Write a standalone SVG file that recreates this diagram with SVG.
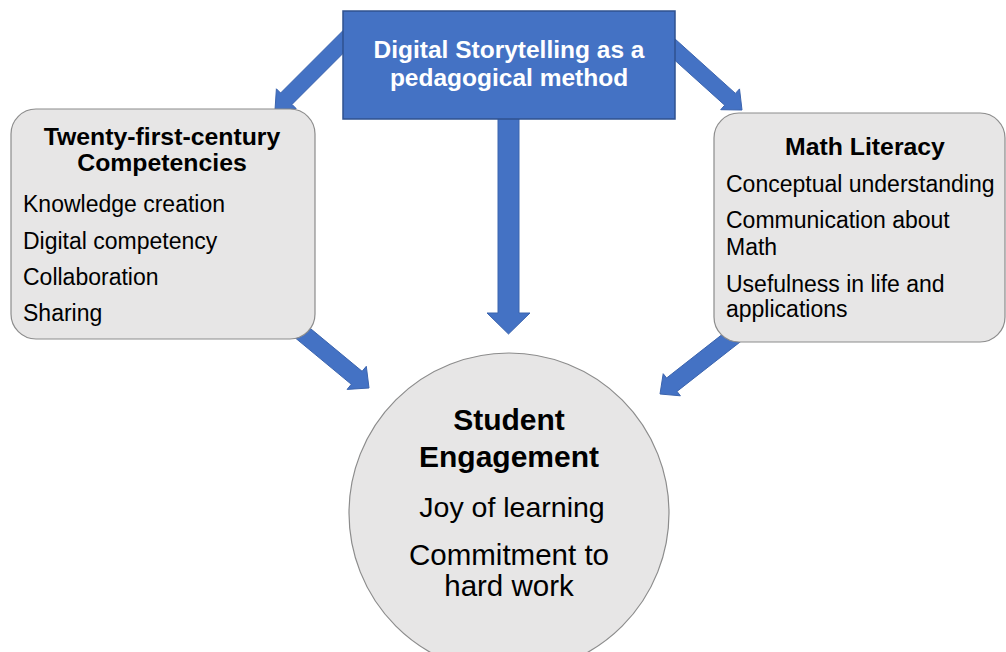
<svg xmlns="http://www.w3.org/2000/svg" width="1006" height="652" viewBox="0 0 1006 652">
<style>
.arrow{fill:#4472C4;stroke:#3B64AE;stroke-width:1}
.gbox{fill:#E7E6E6;stroke:#8C8C8C;stroke-width:1.2}
.t{font-family:"Liberation Sans",Arial,sans-serif;fill:#000}
.b{font-weight:bold}
.w{fill:#fff}
.c{text-anchor:middle}
.s{font-size:23px}
</style>
<rect width="1006" height="652" fill="#fff"/>
<g id="connectors">
<polygon class="arrow" points="349.3,24.3 280.6,93 276.4,88.8 275,110 296.2,108.6 292,104.4 360.7,35.7"/>
<polygon class="arrow" points="670.4,34.8 735.4,93.4 739.5,88.9 742,110 720.7,109.7 724.7,105.2 659.7,46.6"/>
<polygon class="arrow" points="498,110 519,110 519,313 530,313 508.5,334 487,313 498,313"/>
<polygon class="arrow" points="300.5,320.3 362.1,371.3 366.3,366.3 369,388 347.1,389.4 351.3,384.3 289.7,333.3"/>
<polygon class="arrow" points="733.5,325.6 666.6,378 663.2,373.7 660,394 680.4,395.8 677,391.4 743.9,339"/>
</g>
<g id="node-top">
<rect x="343" y="11" width="332" height="108" fill="#4472C4" stroke="#2F528F" stroke-width="1.5"/>
<text class="t b w c" x="509" y="57.5" font-size="24.5">Digital Storytelling as a</text>
<text class="t b w c" x="509" y="86" font-size="24.5">pedagogical method</text>
</g>
<g id="node-left">
<rect class="gbox" x="11" y="109" width="304" height="230" rx="25" ry="25"/>
<text class="t b c" x="162" y="145" font-size="24.8">Twenty-first-century</text>
<text class="t b c" x="162" y="171" font-size="24.8">Competencies</text>
<text class="t s" x="23" y="212">Knowledge creation</text>
<text class="t s" x="23" y="249">Digital competency</text>
<text class="t s" x="23" y="285">Collaboration</text>
<text class="t s" x="23" y="321">Sharing</text>
</g>
<g id="node-right">
<rect class="gbox" x="714" y="113" width="291" height="229" rx="25" ry="25"/>
<text class="t b c" x="865" y="155" font-size="24.8">Math Literacy</text>
<text class="t s" x="726" y="191.5">Conceptual understanding</text>
<text class="t s" x="726" y="228">Communication about</text>
<text class="t s" x="726" y="255">Math</text>
<text class="t s" x="726" y="291.5">Usefulness in life and</text>
<text class="t s" x="726" y="317">applications</text>
</g>
<g id="node-circle">
<circle cx="509" cy="513" r="160" fill="#E7E6E6" stroke="#8C8C8C" stroke-width="1.2"/>
<text class="t b c" x="509" y="430" font-size="30">Student</text>
<text class="t b c" x="509" y="467" font-size="30">Engagement</text>
<text class="t c" x="512" y="517" font-size="28.5">Joy of learning</text>
<text class="t c" x="509" y="565" font-size="29.5">Commitment to</text>
<text class="t c" x="509" y="596" font-size="29.5">hard work</text>
</g>
</svg>
